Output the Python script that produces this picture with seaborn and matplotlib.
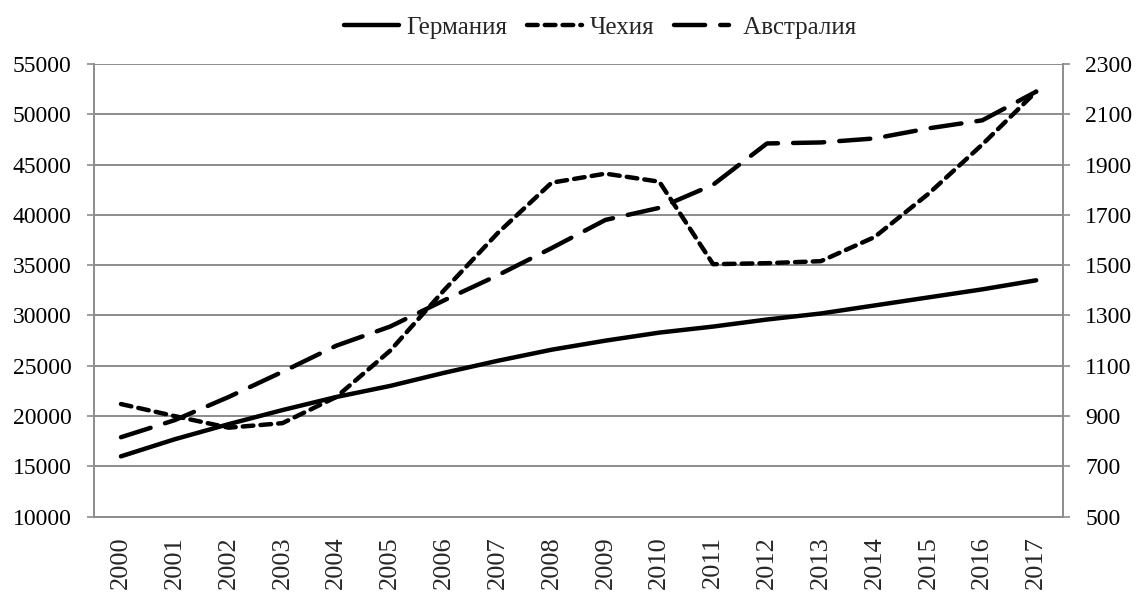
import numpy as np
import pandas as pd
import matplotlib
matplotlib.use("Agg")
import matplotlib.pyplot as plt
import seaborn as sns

# values
years = [str(y) for y in range(2000, 2018)]
germany = [16000, 17700, 19200, 20600, 21900, 23000, 24300, 25500, 26600,
           27500, 28300, 28900, 29600, 30200, 31000, 31800, 32600, 33500]
australia = [17900, 19600, 21900, 24400, 27000, 28900, 31500, 34000, 36700,
             39500, 40700, 43000, 47100, 47200, 47600, 48600, 49400, 52250]
# Чехия is drawn on the right axis
czech = [948, 900, 854, 872, 976, 1160, 1400, 1628, 1828,
         1864, 1832, 1504, 1508, 1516, 1612, 1784, 1980, 2190]

sns.set_style("white")
plt.rcParams["font.family"] = ["Liberation Serif", "DejaVu Serif"]

df = pd.DataFrame({"pos": np.arange(len(years)), "Германия": germany,
                   "Австралия": australia, "Чехия": czech})

fig = plt.figure(figsize=(11.41, 5.94), dpi=100)
ax = fig.add_axes([0.0824, 0.1301, 0.8493, 0.7622])
ax2 = ax.twinx()

grid_c = "#8c8c8c"
lw = 3.2

sns.lineplot(data=df, x="pos", y="Германия", ax=ax, color="black", lw=lw,
             label="Германия", legend=False)
sns.lineplot(data=df, x="pos", y="Чехия", ax=ax2, color="black", lw=lw,
             label="Чехия", legend=False)
sns.lineplot(data=df, x="pos", y="Австралия", ax=ax, color="black", lw=lw,
             label="Австралия", legend=False)

ax.lines[0].set_solid_capstyle("round")
ax2.lines[0].set_dashes([2.4, 1.6])
ax2.lines[0].set_dash_capstyle("round")
ax.lines[1].set_dashes([7, 3.4])
ax.lines[1].set_dash_capstyle("round")

ax.set_ylim(10000, 55000)
ax.set_yticks(range(10000, 55001, 5000))
ax2.set_ylim(500, 2300)
ax2.set_yticks(range(500, 2301, 200))
ax.set_xlim(-0.5, len(years) - 0.5)
ax.set_xticks(np.arange(len(years)))
ax.set_xticklabels(years, rotation=90)
ax.set_xticks(np.arange(-0.5, len(years)), minor=True)

ax.set_xlabel("")
ax.set_ylabel("")
ax2.set_ylabel("")

ax.grid(axis="y", color=grid_c, lw=1.4)
ax.set_axisbelow(True)

for a in (ax, ax2):
    a.spines["top"].set_visible(False)
    for s in ("left", "right", "bottom"):
        a.spines[s].set_color(grid_c)
        a.spines[s].set_linewidth(1.4)
    a.tick_params(axis="y", labelsize=17, colors="black", length=5,
                  width=1.2, color=grid_c, pad=11)
ax2.spines["left"].set_visible(False)
ax.spines["right"].set_visible(False)
ax2.spines["bottom"].set_visible(False)

ax.tick_params(axis="x", which="major", length=0, labelsize=19, pad=14)
ax.tick_params(axis="x", which="minor", length=5, width=1.2, color=grid_c)

handles = [ax.lines[0], ax2.lines[0], ax.lines[1]]
fig.legend(handles, ["Германия", "Чехия", " Австралия"], loc="upper left",
           bbox_to_anchor=(0.2815, 1.01), ncol=3, frameon=False, fontsize=18,
           handlelength=2.2, columnspacing=0.8, handletextpad=0.3)

fig.savefig("out.png", dpi=100)
